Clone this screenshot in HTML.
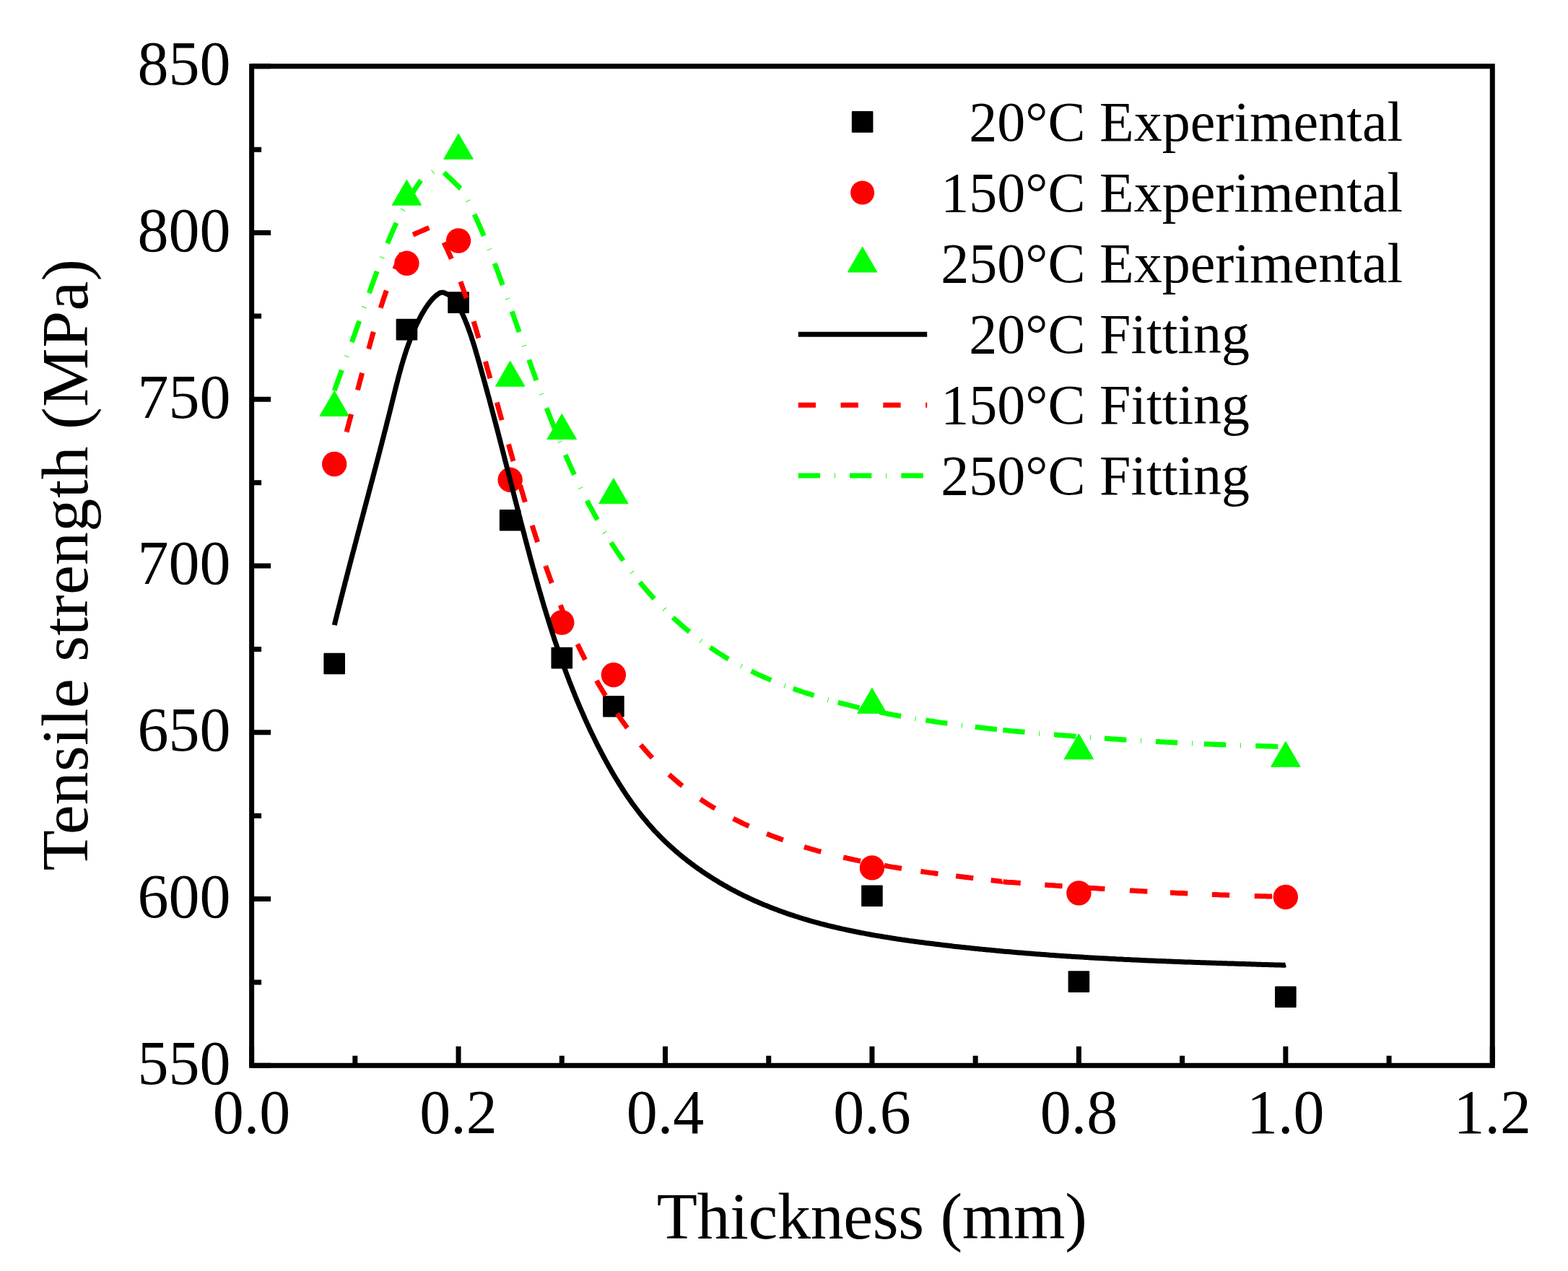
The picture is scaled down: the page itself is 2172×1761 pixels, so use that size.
<!DOCTYPE html>
<html><head><meta charset="utf-8"><title>Tensile strength vs Thickness</title>
<style>
html,body{margin:0;padding:0;background:#fff;overflow:hidden;}
svg{display:block;}
text{font-family:"Liberation Serif","Times New Roman",serif;fill:#000;}
.tl{font-size:86px;}
.ti{font-size:92px;}
.lg{font-size:78px;}
</style></head>
<body>
<svg width="2172" height="1761" viewBox="0 0 2172 1761">
<rect width="2172" height="1761" fill="#fff"/>
<rect x="348.6" y="91.8" width="1718.70" height="1384.50" fill="none" stroke="#000" stroke-width="7" stroke-linejoin="miter"/>
<path d="M348.60 91.80H375.10M348.60 322.55H375.10M348.60 553.30H375.10M348.60 784.05H375.10M348.60 1014.80H375.10M348.60 1245.55H375.10M348.60 1476.30H375.10M348.60 207.18H362.10M348.60 437.93H362.10M348.60 668.67H362.10M348.60 899.42H362.10M348.60 1130.17H362.10M348.60 1360.92H362.10M348.60 1476.30V1449.80M635.05 1476.30V1449.80M921.50 1476.30V1449.80M1207.95 1476.30V1449.80M1494.40 1476.30V1449.80M1780.85 1476.30V1449.80M2067.30 1476.30V1449.80M491.83 1476.30V1462.80M778.28 1476.30V1462.80M1064.72 1476.30V1462.80M1351.18 1476.30V1462.80M1637.62 1476.30V1462.80M1924.08 1476.30V1462.80" stroke="#000" stroke-width="7" fill="none"/>
<text x="319.5" y="117.2" class="tl" text-anchor="end">850</text>
<text x="319.5" y="347.9" class="tl" text-anchor="end">800</text>
<text x="319.5" y="578.7" class="tl" text-anchor="end">750</text>
<text x="319.5" y="809.4" class="tl" text-anchor="end">700</text>
<text x="319.5" y="1040.2" class="tl" text-anchor="end">650</text>
<text x="319.5" y="1271.0" class="tl" text-anchor="end">600</text>
<text x="319.5" y="1501.7" class="tl" text-anchor="end">550</text>
<text x="348.60" y="1569.6" class="tl" text-anchor="middle">0.0</text>
<text x="635.05" y="1569.6" class="tl" text-anchor="middle">0.2</text>
<text x="921.50" y="1569.6" class="tl" text-anchor="middle">0.4</text>
<text x="1207.95" y="1569.6" class="tl" text-anchor="middle">0.6</text>
<text x="1494.40" y="1569.6" class="tl" text-anchor="middle">0.8</text>
<text x="1780.85" y="1569.6" class="tl" text-anchor="middle">1.0</text>
<text x="2067.30" y="1569.6" class="tl" text-anchor="middle">1.2</text>
<text x="909.7" y="1715.9" class="ti" textLength="596.2" lengthAdjust="spacing">Thickness (mm)</text>
<text transform="translate(120.9 1206.4) rotate(-90)" x="0" y="0" class="ti" textLength="847.6" lengthAdjust="spacing">Tensile strength (MPa)</text>
<rect x="448.38" y="904.70" width="29.6" height="29.6" rx="1" fill="#000"/>
<rect x="548.64" y="441.80" width="29.6" height="29.6" rx="1" fill="#000"/>
<rect x="620.25" y="404.30" width="29.6" height="29.6" rx="1" fill="#000"/>
<rect x="691.86" y="706.00" width="29.6" height="29.6" rx="1" fill="#000"/>
<rect x="763.48" y="896.80" width="29.6" height="29.6" rx="1" fill="#000"/>
<rect x="835.09" y="964.00" width="29.6" height="29.6" rx="1" fill="#000"/>
<rect x="1193.15" y="1226.50" width="29.6" height="29.6" rx="1" fill="#000"/>
<rect x="1479.60" y="1345.30" width="29.6" height="29.6" rx="1" fill="#000"/>
<rect x="1766.05" y="1366.40" width="29.6" height="29.6" rx="1" fill="#000"/>
<circle cx="463.18" cy="643.00" r="17.2" fill="#f00"/>
<circle cx="563.44" cy="364.80" r="17.2" fill="#f00"/>
<circle cx="635.05" cy="333.50" r="17.2" fill="#f00"/>
<circle cx="706.66" cy="664.80" r="17.2" fill="#f00"/>
<circle cx="778.28" cy="862.50" r="17.2" fill="#f00"/>
<circle cx="849.89" cy="935.10" r="17.2" fill="#f00"/>
<circle cx="1207.95" cy="1202.40" r="17.2" fill="#f00"/>
<circle cx="1494.40" cy="1237.40" r="17.2" fill="#f00"/>
<circle cx="1780.85" cy="1242.90" r="17.2" fill="#f00"/>
<path d="M463.18 541.50L483.48 576.50L442.88 576.50Z" fill="#0f0" stroke="#0f0" stroke-width="1" stroke-linejoin="round"/>
<path d="M563.44 249.20L583.74 284.20L543.14 284.20Z" fill="#0f0" stroke="#0f0" stroke-width="1" stroke-linejoin="round"/>
<path d="M635.05 185.30L655.35 220.30L614.75 220.30Z" fill="#0f0" stroke="#0f0" stroke-width="1" stroke-linejoin="round"/>
<path d="M706.66 500.20L726.96 535.20L686.36 535.20Z" fill="#0f0" stroke="#0f0" stroke-width="1" stroke-linejoin="round"/>
<path d="M778.28 573.50L798.58 608.50L757.98 608.50Z" fill="#0f0" stroke="#0f0" stroke-width="1" stroke-linejoin="round"/>
<path d="M849.89 662.70L870.19 697.70L829.59 697.70Z" fill="#0f0" stroke="#0f0" stroke-width="1" stroke-linejoin="round"/>
<path d="M1207.95 953.30L1228.25 988.30L1187.65 988.30Z" fill="#0f0" stroke="#0f0" stroke-width="1" stroke-linejoin="round"/>
<path d="M1494.40 1016.80L1514.70 1051.80L1474.10 1051.80Z" fill="#0f0" stroke="#0f0" stroke-width="1" stroke-linejoin="round"/>
<path d="M1780.85 1027.30L1801.15 1062.30L1760.55 1062.30Z" fill="#0f0" stroke="#0f0" stroke-width="1" stroke-linejoin="round"/>
<path d="M463.4 866.1 L463.8 863.7 L464.4 861.3 L465.0 858.8 L465.6 856.4 L466.2 854.0 L466.8 851.5 L467.4 849.1 L468.0 846.7 L468.7 844.3 L469.3 841.8 L469.9 839.4 L470.5 837.0 L471.1 834.6 L471.7 832.1 L472.3 829.7 L472.9 827.3 L473.6 824.9 L474.2 822.4 L474.8 820.0 L475.4 817.6 L476.0 815.2 L476.7 812.7 L477.3 810.3 L477.9 807.9 L478.5 805.5 L479.2 803.1 L479.8 800.6 L480.4 798.2 L481.1 795.8 L481.7 793.4 L482.3 790.9 L482.9 788.5 L483.6 786.1 L484.2 783.7 L484.8 781.3 L485.5 778.8 L486.1 776.4 L486.7 774.0 L487.4 771.6 L488.0 769.2 L488.6 766.7 L489.3 764.3 L489.9 761.9 L490.6 759.5 L491.2 757.1 L491.8 754.6 L492.5 752.2 L493.1 749.8 L493.7 747.4 L494.4 745.0 L495.0 742.5 L495.7 740.1 L496.3 737.7 L496.9 735.3 L497.6 732.9 L498.2 730.4 L498.9 728.0 L499.5 725.6 L500.1 723.2 L500.8 720.8 L501.4 718.4 L502.1 715.9 L502.7 713.5 L503.4 711.1 L504.0 708.7 L504.6 706.3 L505.3 703.8 L505.9 701.4 L506.6 699.0 L507.2 696.6 L507.8 694.2 L508.5 691.8 L509.1 689.3 L509.8 686.9 L510.4 684.5 L511.0 682.1 L511.7 679.7 L512.3 677.2 L513.0 674.8 L513.6 672.4 L514.2 670.0 L514.9 667.6 L515.5 665.1 L516.2 662.7 L516.8 660.3 L517.4 657.9 L518.1 655.5 L518.7 653.0 L519.3 650.6 L520.0 648.2 L520.6 645.8 L521.2 643.4 L521.9 640.9 L522.5 638.5 L523.1 636.1 L523.8 633.7 L524.4 631.3 L525.0 628.8 L525.7 626.4 L526.3 624.0 L526.9 621.6 L527.5 619.1 L528.2 616.7 L528.8 614.3 L529.4 611.9 L530.0 609.5 L530.7 607.0 L531.3 604.6 L531.9 602.2 L532.5 599.8 L533.1 597.3 L533.8 594.9 L534.4 592.5 L535.0 590.1 L535.6 587.6 L536.2 585.2 L536.8 582.8 L537.4 580.4 L538.1 577.9 L538.7 575.5 L539.3 573.1 L539.9 570.7 L540.5 568.2 L541.1 565.8 L541.7 563.4 L542.3 560.9 L542.9 558.5 L543.5 556.1 L544.1 553.7 L544.7 551.2 L545.3 548.8 L545.9 546.4 L546.5 543.9 L547.1 541.5 L547.7 539.1 L548.3 536.7 L548.9 534.2 L549.5 531.8 L550.2 529.4 L550.8 527.0 L551.4 524.5 L552.0 522.1 L552.7 519.7 L553.3 517.3 L554.0 514.9 L554.7 512.4 L555.3 510.0 L556.0 507.6 L556.7 505.2 L557.4 502.8 L558.1 500.4 L558.8 498.0 L559.6 495.6 L560.3 493.2 L561.1 490.9 L561.8 488.5 L562.6 486.1 L563.4 483.7 L564.2 481.4 L565.1 479.0 L565.9 476.7 L566.8 474.3 L567.7 472.0 L568.5 469.6 L569.5 467.3 L570.4 465.0 L571.3 462.7 L572.3 460.3 L573.3 458.0 L574.3 455.8 L575.3 453.5 L576.3 451.2 L577.4 448.9 L578.5 446.7 L579.6 444.4 L580.7 442.2 L581.9 440.0 L583.0 437.8 L584.2 435.6 L585.5 433.4 L586.8 431.2 L588.1 429.1 L589.4 427.0 L590.8 424.9 L592.2 422.9 L593.7 420.8 L595.2 418.9 L596.8 416.9 L598.4 415.0 L600.1 413.2 L601.9 411.4 L603.8 409.8 L605.7 408.2 L607.8 406.8 L609.9 405.5 L612.1 405.3 L614.4 405.3 L616.7 406.2 L619.0 407.2 L621.2 408.5 L623.2 409.9 L625.2 411.5 L627.0 413.2 L628.7 415.1 L630.3 417.0 L631.8 419.0 L633.2 421.1 L634.5 423.2 L635.8 425.3 L637.0 427.5 L638.1 429.8 L639.2 432.0 L640.2 434.3 L641.3 436.6 L642.3 438.8 L643.3 441.1 L644.3 443.4 L645.2 445.8 L646.2 448.1 L647.1 450.4 L648.0 452.8 L648.8 455.1 L649.7 457.4 L650.5 459.8 L651.4 462.2 L652.2 464.5 L653.0 466.9 L653.7 469.3 L654.5 471.7 L655.3 474.0 L656.0 476.4 L656.8 478.8 L657.5 481.2 L658.2 483.6 L658.9 486.0 L659.6 488.4 L660.3 490.8 L661.0 493.2 L661.7 495.6 L662.4 498.0 L663.1 500.4 L663.8 502.8 L664.5 505.2 L665.1 507.7 L665.8 510.1 L666.5 512.5 L667.2 514.9 L667.8 517.3 L668.5 519.7 L669.2 522.1 L669.9 524.5 L670.5 526.9 L671.2 529.3 L671.9 531.8 L672.5 534.2 L673.2 536.6 L673.8 539.0 L674.5 541.4 L675.1 543.8 L675.8 546.2 L676.5 548.7 L677.1 551.1 L677.8 553.5 L678.4 555.9 L679.0 558.3 L679.7 560.7 L680.3 563.2 L681.0 565.6 L681.6 568.0 L682.3 570.4 L682.9 572.8 L683.5 575.3 L684.2 577.7 L684.8 580.1 L685.4 582.5 L686.1 584.9 L686.7 587.4 L687.3 589.8 L688.0 592.2 L688.6 594.6 L689.2 597.0 L689.9 599.5 L690.5 601.9 L691.1 604.3 L691.7 606.7 L692.4 609.1 L693.0 611.6 L693.6 614.0 L694.2 616.4 L694.9 618.8 L695.5 621.3 L696.1 623.7 L696.7 626.1 L697.4 628.5 L698.0 631.0 L698.6 633.4 L699.2 635.8 L699.8 638.2 L700.5 640.7 L701.1 643.1 L701.7 645.5 L702.3 647.9 L702.9 650.3 L703.6 652.8 L704.2 655.2 L704.8 657.6 L705.4 660.0 L706.0 662.5 L706.6 664.9 L707.3 667.3 L707.9 669.7 L708.5 672.2 L709.1 674.6 L709.7 677.0 L710.4 679.4 L711.0 681.9 L711.6 684.3 L712.2 686.7 L712.8 689.1 L713.4 691.6 L714.1 694.0 L714.7 696.4 L715.3 698.8 L715.9 701.3 L716.6 703.7 L717.2 706.1 L717.8 708.5 L718.4 711.0 L719.0 713.4 L719.7 715.8 L720.3 718.2 L720.9 720.6 L721.5 723.1 L722.2 725.5 L722.8 727.9 L723.4 730.3 L724.1 732.8 L724.7 735.2 L725.3 737.6 L726.0 740.0 L726.6 742.4 L727.2 744.9 L727.9 747.3 L728.5 749.7 L729.1 752.1 L729.8 754.5 L730.4 756.9 L731.1 759.4 L731.7 761.8 L732.4 764.2 L733.0 766.6 L733.6 769.0 L734.3 771.5 L734.9 773.9 L735.6 776.3 L736.3 778.7 L736.9 781.1 L737.6 783.5 L738.2 785.9 L738.9 788.4 L739.6 790.8 L740.2 793.2 L740.9 795.6 L741.6 798.0 L742.2 800.4 L742.9 802.8 L743.6 805.2 L744.3 807.6 L744.9 810.0 L745.6 812.4 L746.3 814.9 L747.0 817.3 L747.7 819.7 L748.4 822.1 L749.1 824.5 L749.8 826.9 L750.5 829.3 L751.2 831.7 L751.9 834.1 L752.6 836.5 L753.3 838.9 L754.0 841.3 L754.8 843.7 L755.5 846.1 L756.2 848.5 L756.9 850.8 L757.7 853.2 L758.4 855.6 L759.2 858.0 L759.9 860.4 L760.6 862.8 L761.4 865.2 L762.1 867.6 L762.9 870.0 L763.7 872.3 L764.4 874.7 L765.2 877.1 L766.0 879.5 L766.8 881.9 L767.5 884.2 L768.3 886.6 L769.1 889.0 L769.9 891.4 L770.7 893.7 L771.5 896.1 L772.3 898.5 L773.1 900.8 L773.9 903.2 L774.7 905.6 L775.6 907.9 L776.4 910.3 L777.2 912.7 L778.1 915.0 L778.9 917.4 L779.7 919.7 L780.6 922.1 L781.4 924.4 L782.3 926.8 L783.2 929.1 L784.0 931.5 L784.9 933.8 L785.8 936.2 L786.7 938.5 L787.6 940.8 L788.4 943.2 L789.3 945.5 L790.3 947.8 L791.2 950.2 L792.1 952.5 L793.0 954.8 L793.9 957.2 L794.9 959.5 L795.8 961.8 L796.7 964.1 L797.7 966.4 L798.6 968.7 L799.6 971.1 L800.6 973.4 L801.5 975.7 L802.5 978.0 L803.5 980.3 L804.5 982.6 L805.5 984.9 L806.5 987.2 L807.5 989.5 L808.5 991.7 L809.5 994.0 L810.5 996.3 L811.5 998.6 L812.6 1000.9 L813.6 1003.2 L814.7 1005.4 L815.7 1007.7 L816.8 1010.0 L817.8 1012.2 L818.9 1014.5 L820.0 1016.7 L821.1 1019.0 L822.2 1021.2 L823.3 1023.5 L824.4 1025.7 L825.5 1028.0 L826.6 1030.2 L827.7 1032.5 L828.9 1034.7 L830.0 1036.9 L831.2 1039.1 L832.3 1041.4 L833.5 1043.6 L834.6 1045.8 L835.8 1048.0 L837.0 1050.2 L838.2 1052.4 L839.4 1054.6 L840.6 1056.8 L841.8 1059.0 L843.0 1061.2 L844.2 1063.3 L845.5 1065.5 L846.7 1067.7 L848.0 1069.9 L849.2 1072.0 L850.5 1074.2 L851.8 1076.3 L853.1 1078.5 L854.4 1080.6 L855.7 1082.7 L857.0 1084.9 L858.3 1087.0 L859.7 1089.1 L861.0 1091.2 L862.4 1093.3 L863.7 1095.4 L865.1 1097.5 L866.5 1099.6 L867.9 1101.7 L869.3 1103.7 L870.7 1105.8 L872.1 1107.8 L873.6 1109.9 L875.0 1111.9 L876.5 1114.0 L878.0 1116.0 L879.5 1118.0 L881.0 1120.0 L882.5 1122.0 L884.0 1124.0 L885.5 1126.0 L887.1 1127.9 L888.6 1129.9 L890.2 1131.8 L891.8 1133.8 L893.4 1135.7 L895.0 1137.6 L896.6 1139.5 L898.2 1141.4 L899.8 1143.3 L901.5 1145.2 L903.2 1147.1 L904.8 1148.9 L906.5 1150.8 L908.2 1152.6 L910.0 1154.4 L911.7 1156.2 L913.4 1158.0 L915.2 1159.8 L917.0 1161.6 L918.7 1163.3 L920.5 1165.1 L922.3 1166.8 L924.2 1168.5 L926.0 1170.2 L927.8 1171.9 L929.7 1173.6 L931.5 1175.3 L933.4 1176.9 L935.3 1178.6 L937.2 1180.2 L939.1 1181.8 L941.0 1183.5 L942.9 1185.1 L944.9 1186.6 L946.8 1188.2 L948.8 1189.8 L950.7 1191.3 L952.7 1192.9 L954.7 1194.4 L956.7 1195.9 L958.7 1197.4 L960.7 1198.9 L962.7 1200.4 L964.7 1201.8 L966.8 1203.3 L968.8 1204.7 L970.9 1206.2 L972.9 1207.6 L975.0 1209.0 L977.1 1210.4 L979.2 1211.8 L981.3 1213.1 L983.4 1214.5 L985.5 1215.8 L987.6 1217.2 L989.7 1218.5 L991.8 1219.8 L994.0 1221.1 L996.1 1222.4 L998.3 1223.7 L1000.4 1224.9 L1002.6 1226.2 L1004.8 1227.4 L1007.0 1228.6 L1009.1 1229.9 L1011.3 1231.1 L1013.5 1232.3 L1015.7 1233.4 L1018.0 1234.6 L1020.2 1235.8 L1022.4 1236.9 L1024.6 1238.1 L1026.9 1239.2 L1029.1 1240.3 L1031.3 1241.4 L1033.6 1242.5 L1035.9 1243.5 L1038.1 1244.6 L1040.4 1245.7 L1042.7 1246.7 L1044.9 1247.7 L1047.2 1248.8 L1049.5 1249.8 L1051.8 1250.8 L1054.1 1251.8 L1056.4 1252.7 L1058.7 1253.7 L1061.0 1254.6 L1063.4 1255.6 L1065.7 1256.5 L1068.0 1257.4 L1070.3 1258.3 L1072.7 1259.2 L1075.0 1260.1 L1077.4 1261.0 L1079.7 1261.9 L1082.1 1262.7 L1084.4 1263.6 L1086.8 1264.4 L1089.1 1265.2 L1091.5 1266.1 L1093.9 1266.9 L1096.2 1267.7 L1098.6 1268.4 L1101.0 1269.2 L1103.4 1270.0 L1105.8 1270.7 L1108.1 1271.5 L1110.5 1272.2 L1112.9 1273.0 L1115.3 1273.7 L1117.7 1274.4 L1120.1 1275.1 L1122.5 1275.8 L1124.9 1276.5 L1127.3 1277.2 L1129.8 1277.8 L1132.2 1278.5 L1134.6 1279.1 L1137.0 1279.8 L1139.4 1280.4 L1141.8 1281.0 L1144.3 1281.6 L1146.7 1282.3 L1149.1 1282.9 L1151.6 1283.5 L1154.0 1284.0 L1156.4 1284.6 L1158.9 1285.2 L1161.3 1285.8 L1163.7 1286.3 L1166.2 1286.9 L1168.6 1287.4 L1171.1 1287.9 L1173.5 1288.5 L1176.0 1289.0 L1178.4 1289.5 L1180.9 1290.0 L1183.3 1290.5 L1185.8 1291.0 L1188.2 1291.5 L1190.7 1292.0 L1193.1 1292.5 L1195.6 1292.9 L1198.0 1293.4 L1200.5 1293.9 L1203.0 1294.3 L1205.4 1294.8 L1207.9 1295.2 L1210.3 1295.6 L1212.8 1296.1 L1215.3 1296.5 L1217.7 1296.9 L1220.2 1297.3 L1222.7 1297.7 L1225.1 1298.1 L1227.6 1298.5 L1230.1 1298.9 L1232.6 1299.3 L1235.0 1299.7 L1237.5 1300.1 L1240.0 1300.5 L1242.4 1300.9 L1244.9 1301.2 L1247.4 1301.6 L1249.9 1302.0 L1252.3 1302.3 L1254.8 1302.7 L1257.3 1303.0 L1259.8 1303.4 L1262.3 1303.7 L1264.7 1304.1 L1267.2 1304.4 L1269.7 1304.7 L1272.2 1305.1 L1274.7 1305.4 L1277.1 1305.7 L1279.6 1306.0 L1282.1 1306.4 L1284.6 1306.7 L1287.1 1307.0 L1289.5 1307.3 L1292.0 1307.6 L1294.5 1307.9 L1297.0 1308.2 L1299.5 1308.5 L1302.0 1308.8 L1304.4 1309.1 L1306.9 1309.4 L1309.4 1309.7 L1311.9 1310.0 L1314.4 1310.3 L1316.9 1310.6 L1319.4 1310.9 L1321.8 1311.2 L1324.3 1311.4 L1326.8 1311.7 L1329.3 1312.0 L1331.8 1312.3 L1334.3 1312.5 L1336.8 1312.8 L1339.2 1313.1 L1341.7 1313.3 L1344.2 1313.6 L1346.7 1313.9 L1349.2 1314.1 L1351.7 1314.4 L1354.2 1314.6 L1356.7 1314.9 L1359.2 1315.1 L1361.6 1315.4 L1364.1 1315.6 L1366.6 1315.9 L1369.1 1316.1 L1371.6 1316.3 L1374.1 1316.6 L1376.6 1316.8 L1379.1 1317.1 L1381.6 1317.3 L1384.1 1317.5 L1386.6 1317.7 L1389.0 1318.0 L1391.5 1318.2 L1394.0 1318.4 L1396.5 1318.6 L1399.0 1318.8 L1401.5 1319.1 L1404.0 1319.3 L1406.5 1319.5 L1409.0 1319.7 L1411.5 1319.9 L1414.0 1320.1 L1416.5 1320.3 L1419.0 1320.5 L1421.5 1320.7 L1424.0 1320.9 L1426.4 1321.1 L1428.9 1321.3 L1431.4 1321.5 L1433.9 1321.7 L1436.4 1321.9 L1438.9 1322.1 L1441.4 1322.3 L1443.9 1322.5 L1446.4 1322.6 L1448.9 1322.8 L1451.4 1323.0 L1453.9 1323.2 L1456.4 1323.4 L1458.9 1323.5 L1461.4 1323.7 L1463.9 1323.9 L1466.4 1324.1 L1468.9 1324.2 L1471.4 1324.4 L1473.9 1324.6 L1476.4 1324.7 L1478.9 1324.9 L1481.3 1325.0 L1483.8 1325.2 L1486.3 1325.4 L1488.8 1325.5 L1491.3 1325.7 L1493.8 1325.8 L1496.3 1326.0 L1498.8 1326.1 L1501.3 1326.3 L1503.8 1326.4 L1506.3 1326.6 L1508.8 1326.7 L1511.3 1326.9 L1513.8 1327.0 L1516.3 1327.2 L1518.8 1327.3 L1521.3 1327.4 L1523.8 1327.6 L1526.3 1327.7 L1528.8 1327.8 L1531.3 1328.0 L1533.8 1328.1 L1536.3 1328.2 L1538.8 1328.4 L1541.3 1328.5 L1543.8 1328.6 L1546.3 1328.8 L1548.8 1328.9 L1551.3 1329.0 L1553.8 1329.1 L1556.3 1329.3 L1558.8 1329.4 L1561.3 1329.5 L1563.8 1329.6 L1566.3 1329.7 L1568.8 1329.9 L1571.3 1330.0 L1573.8 1330.1 L1576.3 1330.2 L1578.8 1330.3 L1581.3 1330.4 L1583.8 1330.5 L1586.3 1330.7 L1588.8 1330.8 L1591.3 1330.9 L1593.8 1331.0 L1596.3 1331.1 L1598.8 1331.2 L1601.3 1331.3 L1603.8 1331.4 L1606.3 1331.5 L1608.8 1331.6 L1611.3 1331.7 L1613.8 1331.8 L1616.3 1331.9 L1618.8 1332.0 L1621.3 1332.1 L1623.8 1332.2 L1626.3 1332.3 L1628.8 1332.4 L1631.3 1332.5 L1633.8 1332.6 L1636.3 1332.7 L1638.8 1332.8 L1641.3 1332.9 L1643.8 1333.0 L1646.3 1333.0 L1648.8 1333.1 L1651.3 1333.2 L1653.8 1333.3 L1656.3 1333.4 L1658.8 1333.5 L1661.3 1333.6 L1663.8 1333.7 L1666.3 1333.8 L1668.8 1333.8 L1671.3 1333.9 L1673.8 1334.0 L1676.3 1334.1 L1678.8 1334.2 L1681.3 1334.3 L1683.8 1334.3 L1686.3 1334.4 L1688.8 1334.5 L1691.3 1334.6 L1693.8 1334.7 L1696.3 1334.8 L1698.8 1334.8 L1701.3 1334.9 L1703.8 1335.0 L1706.3 1335.1 L1708.8 1335.1 L1711.3 1335.2 L1713.8 1335.3 L1716.3 1335.4 L1718.8 1335.5 L1721.3 1335.5 L1723.8 1335.6 L1726.3 1335.7 L1728.8 1335.8 L1731.3 1335.8 L1733.8 1335.9 L1736.3 1336.0 L1738.8 1336.1 L1741.3 1336.2 L1743.8 1336.2 L1746.3 1336.3 L1748.8 1336.4 L1751.3 1336.5 L1753.8 1336.5 L1756.3 1336.6 L1758.8 1336.7 L1761.3 1336.8 L1763.8 1336.8 L1766.3 1336.9 L1768.8 1337.0 L1771.3 1337.1 L1773.8 1337.1 L1776.3 1337.2 L1778.8 1337.3 L1781.0 1336.7" fill="none" stroke="#000" stroke-width="7" stroke-linejoin="round"/>
<g fill="none" stroke="#f00" stroke-width="7" stroke-dasharray="24.3 34.5" stroke-linejoin="round"><path d="M463.2 657.0 L463.9 655.2"/><path d="M463.9 655.2 L464.8 652.3 L465.6 649.4 L466.5 646.5 L467.3 643.7 L468.1 640.8 L469.0 637.9 L469.8 635.0 L470.6 632.1 L471.5 629.2 L472.3 626.3 L473.1 623.4 L473.9 620.6 L474.7 617.7 L475.5 614.8 L476.3 611.9 L477.1 609.0 L477.9 606.1 L478.7 603.2 L479.5 600.3 L480.3 597.4"/><path d="M480.3 597.4 L481.1 594.5 L481.9 591.6 L482.7 588.7 L483.4 585.8 L484.2 582.9 L485.0 580.0 L485.8 577.1 L486.5 574.2 L487.3 571.3 L488.1 568.3 L488.8 565.4 L489.6 562.5 L490.4 559.6 L491.1 556.7 L491.9 553.8 L492.7 550.9 L493.4 548.0 L494.2 545.1 L495.0 542.2 L495.5 540.3"/><path d="M495.5 540.3 L496.2 537.4 L497.0 534.5 L497.8 531.5 L498.5 528.6 L499.3 525.7 L500.1 522.8 L500.8 519.9 L501.6 517.0 L502.4 514.1 L503.2 511.2 L503.9 508.3 L504.7 505.4 L505.5 502.5 L506.3 499.6 L507.1 496.7 L507.8 493.8 L508.6 490.9 L509.4 488.0 L510.2 485.1 L510.8 483.2"/><path d="M510.8 483.2 L511.6 480.3 L512.4 477.4 L513.2 474.5 L514.0 471.6 L514.8 468.7 L515.6 465.8 L516.4 462.9 L517.3 460.0 L518.1 457.1 L518.9 454.3 L519.8 451.4 L520.6 448.5 L521.5 445.6 L522.3 442.7 L523.2 439.9 L524.0 437.0 L524.9 434.1 L525.8 431.2 L526.7 428.4 L527.6 425.5"/><path d="M527.6 425.5 L528.5 422.6 L529.5 419.8 L530.4 416.9 L531.3 414.1 L532.3 411.2 L533.3 408.4 L534.2 405.5 L535.2 402.7 L536.3 399.9 L537.3 397.1 L538.3 394.2 L539.4 391.4 L540.4 388.6 L541.5 385.8 L542.6 383.0 L543.7 380.2 L544.9 377.4 L546.0 374.7 L546.8 372.8"/><path d="M546.8 372.8 L548.0 370.0 L549.2 367.3 L550.4 364.5 L551.6 361.8 L552.9 359.1 L554.1 356.4 L555.4 353.6 L556.7 350.9 L558.1 348.2 L559.4 345.6 L560.8 342.9 L562.2 340.2 L563.6 337.6 L565.1 335.0 L566.6 332.3 L568.0 329.7 L569.6 327.1 L571.2 324.8 L572.1 325.2"/><path d="M572.1 325.2 L574.9 324.0 L577.6 322.8 L580.4 321.6 L583.1 320.4 L585.9 319.2 L588.6 318.0 L591.4 316.8 L594.1 315.6 L596.9 314.4 L599.7 313.2 L602.2 313.0 L603.7 315.6 L605.2 318.2 L606.7 320.8 L608.2 323.4 L609.6 326.1 L611.0 328.7 L612.4 331.4 L613.8 334.1 L615.1 336.7"/><path d="M615.1 336.7 L616.5 339.4 L617.8 342.1 L619.1 344.8 L620.4 347.5 L621.6 350.3 L622.9 353.0 L624.1 355.8 L625.3 358.5 L626.5 361.3 L627.7 364.0 L628.8 366.8 L630.0 369.6 L631.1 372.3 L632.2 375.1 L633.3 377.9 L634.4 380.7 L635.4 383.5 L636.5 386.3 L637.6 389.2 L637.9 390.1"/><path d="M637.9 390.1 L638.9 392.9 L639.9 395.7 L640.9 398.6 L641.9 401.4 L642.9 404.2 L643.9 407.1 L644.9 409.9 L645.8 412.8 L646.8 415.6 L647.7 418.5 L648.6 421.3 L649.5 424.2 L650.5 427.0 L651.4 429.9 L652.3 432.8 L653.2 435.6 L654.0 438.5 L654.9 441.4 L655.8 444.2 L656.1 445.2"/><path d="M656.1 445.2 L657.0 448.1 L657.8 451.0 L658.7 453.8 L659.5 456.7 L660.4 459.6 L661.2 462.5 L662.1 465.3 L662.9 468.2 L663.8 471.1 L664.6 474.0 L665.4 476.9 L666.3 479.8 L667.1 482.6 L667.9 485.5 L668.8 488.4 L669.6 491.3 L670.4 494.2 L671.3 497.1 L672.1 500.0 L672.4 500.9"/><path d="M672.4 500.9 L673.2 503.8 L674.0 506.7 L674.8 509.6 L675.6 512.5 L676.5 515.4 L677.3 518.2 L678.1 521.1 L678.9 524.0 L679.7 526.9 L680.5 529.8 L681.3 532.7 L682.2 535.6 L683.0 538.5 L683.8 541.4 L684.6 544.3 L685.4 547.1 L686.2 550.0 L687.0 552.9 L687.8 555.8 L688.6 558.7"/><path d="M688.6 558.7 L689.4 561.6 L690.2 564.5 L691.0 567.4 L691.8 570.3 L692.6 573.2 L693.4 576.1 L694.2 579.0 L695.1 581.9 L695.9 584.7 L696.7 587.6 L697.5 590.5 L698.3 593.4 L699.1 596.3 L699.9 599.2 L700.7 602.1 L701.5 605.0 L702.3 607.9 L703.1 610.8 L703.9 613.7 L704.5 615.6"/><path d="M704.5 615.6 L705.3 618.5 L706.1 621.4 L706.9 624.3 L707.7 627.2 L708.5 630.0 L709.3 632.9 L710.1 635.8 L710.9 638.7 L711.8 641.6 L712.6 644.5 L713.4 647.4 L714.2 650.3 L715.0 653.2 L715.9 656.0 L716.7 658.9 L717.5 661.8 L718.3 664.7 L719.2 667.6 L720.0 670.5 L720.6 672.4"/><path d="M720.6 672.4 L721.4 675.3 L722.2 678.2 L723.1 681.0 L723.9 683.9 L724.8 686.8 L725.6 689.7 L726.5 692.6 L727.3 695.4 L728.2 698.3 L729.0 701.2 L729.9 704.1 L730.8 706.9 L731.6 709.8 L732.5 712.7 L733.4 715.6 L734.3 718.4 L735.1 721.3 L736.0 724.2 L736.9 727.0 L737.2 728.0"/><path d="M737.2 728.0 L738.1 730.9 L739.0 733.7 L739.9 736.6 L740.8 739.4 L741.7 742.3 L742.7 745.2 L743.6 748.0 L744.5 750.9 L745.5 753.7 L746.4 756.6 L747.3 759.4 L748.3 762.3 L749.2 765.1 L750.2 768.0 L751.2 770.8 L752.1 773.6 L753.1 776.5 L754.1 779.3 L755.1 782.2 L756.1 785.0"/><path d="M756.1 785.0 L757.1 787.8 L758.1 790.7 L759.1 793.5 L760.1 796.3 L761.1 799.1 L762.1 801.9 L763.2 804.8 L764.2 807.6 L765.3 810.4 L766.3 813.2 L767.4 816.0 L768.5 818.8 L769.5 821.6 L770.6 824.4 L771.7 827.2 L772.8 830.0 L773.9 832.8 L775.0 835.6 L776.2 838.4"/><path d="M776.2 838.4 L777.3 841.1 L778.4 843.9 L779.6 846.7 L780.7 849.5 L781.9 852.2 L783.1 855.0 L784.2 857.8 L785.4 860.5 L786.6 863.3 L787.8 866.0 L789.0 868.8 L790.3 871.5 L791.5 874.3 L792.7 877.0 L794.0 879.7 L795.2 882.4 L796.5 885.2 L797.8 887.9 L799.1 890.6 L799.9 892.4"/><path d="M799.9 892.4 L801.2 895.1 L802.5 897.8 L803.8 900.5 L805.2 903.2 L806.5 905.9 L807.9 908.6 L809.2 911.3 L810.6 913.9 L812.0 916.6 L813.4 919.3 L814.7 921.9 L816.2 924.6 L817.6 927.2 L819.0 929.8 L820.4 932.5 L821.9 935.1 L823.4 937.7 L824.8 940.3 L826.3 943.0"/><path d="M826.3 943.0 L827.8 945.6 L829.3 948.2 L830.8 950.8 L832.3 953.3 L833.9 955.9 L835.4 958.5 L837.0 961.1 L838.6 963.6 L840.1 966.2 L841.7 968.7 L843.3 971.3 L845.0 973.8 L846.6 976.3 L848.2 978.8 L849.9 981.3 L851.5 983.8 L853.2 986.3 L854.9 988.8"/><path d="M854.9 988.8 L856.6 991.3 L858.3 993.7 L860.0 996.2 L861.8 998.7 L863.5 1001.1 L865.3 1003.5 L867.0 1005.9 L868.8 1008.4 L870.6 1010.8 L872.5 1013.1 L874.3 1015.5 L876.1 1017.9 L878.0 1020.3 L879.8 1022.6 L881.7 1024.9 L883.6 1027.3 L885.5 1029.6 L887.5 1031.9"/><path d="M887.5 1031.9 L889.4 1034.2 L891.4 1036.5 L893.3 1038.7 L895.3 1041.0 L897.3 1043.2 L899.3 1045.5 L901.3 1047.7 L903.4 1049.9 L905.4 1052.1 L907.5 1054.2 L909.6 1056.4 L911.7 1058.5 L913.8 1060.7 L915.9 1062.8 L918.1 1064.9 L920.2 1067.0 L922.4 1069.0 L924.6 1071.1 L926.8 1073.1"/><path d="M926.8 1073.1 L929.0 1075.1 L931.3 1077.1 L933.5 1079.1 L935.8 1081.1 L938.1 1083.0 L940.4 1085.0 L942.7 1086.9 L945.0 1088.8 L947.4 1090.6 L949.8 1092.5 L952.1 1094.3 L954.5 1096.1 L956.9 1097.9 L959.4 1099.7 L961.8 1101.4 L964.2 1103.2 L966.7 1104.9 L969.2 1106.6 L970.0 1107.2"/><path d="M970.0 1107.2 L972.5 1108.8 L975.0 1110.5 L977.5 1112.1 L980.0 1113.8 L982.6 1115.4 L985.1 1116.9 L987.7 1118.5 L990.3 1120.1 L992.8 1121.6 L995.4 1123.1 L998.0 1124.6 L1000.7 1126.1 L1003.3 1127.5 L1005.9 1129.0 L1008.6 1130.4 L1011.2 1131.8 L1013.9 1133.2 L1015.6 1134.1"/><path d="M1015.6 1134.1 L1018.3 1135.5 L1021.0 1136.8 L1023.7 1138.2 L1026.4 1139.5 L1029.1 1140.8 L1031.8 1142.1 L1034.5 1143.3 L1037.3 1144.6 L1040.0 1145.8 L1042.7 1147.1 L1045.5 1148.3 L1048.2 1149.5 L1051.0 1150.6 L1053.8 1151.8 L1056.5 1153.0 L1059.3 1154.1 L1062.1 1155.2"/><path d="M1062.1 1155.2 L1064.9 1156.3 L1067.7 1157.4 L1070.5 1158.5 L1073.3 1159.6 L1076.1 1160.6 L1078.9 1161.6 L1081.7 1162.7 L1084.6 1163.7 L1087.4 1164.7 L1090.2 1165.7 L1093.1 1166.6 L1095.9 1167.6 L1098.8 1168.6 L1101.6 1169.5 L1104.5 1170.4 L1107.3 1171.3 L1110.2 1172.2 L1113.1 1173.1 L1114.0 1173.4"/><path d="M1114.0 1173.4 L1116.9 1174.3 L1119.8 1175.1 L1122.7 1176.0 L1125.5 1176.8 L1128.4 1177.6 L1131.3 1178.5 L1134.2 1179.3 L1137.1 1180.0 L1140.0 1180.8 L1142.9 1181.6 L1145.8 1182.4 L1148.7 1183.1 L1151.6 1183.8 L1154.5 1184.6 L1157.4 1185.3 L1160.4 1186.0 L1163.3 1186.7 L1166.2 1187.4 L1168.2 1187.8"/><path d="M1168.2 1187.8 L1171.1 1188.5 L1174.0 1189.2 L1176.9 1189.8 L1179.9 1190.5 L1182.8 1191.1 L1185.7 1191.7 L1188.7 1192.4 L1191.6 1193.0 L1194.6 1193.6 L1197.5 1194.2 L1200.4 1194.7 L1203.4 1195.3 L1206.3 1195.9 L1209.3 1196.5 L1212.2 1197.0 L1215.2 1197.6 L1218.1 1198.1 L1221.1 1198.6 L1224.1 1199.2 L1225.0 1199.3"/><path d="M1225.0 1199.3 L1228.0 1199.8 L1231.0 1200.4 L1233.9 1200.9 L1236.9 1201.4 L1239.8 1201.8 L1242.8 1202.3 L1245.8 1202.8 L1248.7 1203.3 L1251.7 1203.8 L1254.7 1204.2 L1257.6 1204.7 L1260.6 1205.1 L1263.6 1205.6 L1266.5 1206.0 L1269.5 1206.4 L1272.5 1206.9 L1275.4 1207.3"/><path d="M1275.4 1207.3 L1278.4 1207.7 L1281.4 1208.1 L1284.4 1208.6 L1287.3 1209.0 L1290.3 1209.4 L1293.3 1209.8 L1296.3 1210.2 L1299.2 1210.6 L1302.2 1211.0 L1305.2 1211.3 L1308.2 1211.7 L1311.1 1212.1 L1314.1 1212.5 L1317.1 1212.9 L1320.1 1213.2 L1323.1 1213.6 L1324.1 1213.7"/><path d="M1324.1 1213.7 L1327.0 1214.1 L1330.0 1214.5 L1333.0 1214.8 L1336.0 1215.2 L1339.0 1215.6 L1341.9 1215.9 L1344.9 1216.3 L1347.9 1216.6 L1350.9 1217.0 L1353.9 1217.3 L1356.8 1217.7 L1359.8 1218.1 L1362.8 1218.4 L1365.8 1218.8 L1368.8 1219.1 L1371.7 1219.5 L1372.7 1219.6"/><path d="M1372.7 1219.6 L1375.7 1219.9 L1378.7 1220.3 L1381.7 1220.6 L1384.7 1221.0 L1387.6 1221.3 L1388.5 1220.9"/><path d="M1389.5 1221.8 L1392.5 1221.9 L1395.5 1222.2 L1398.4 1222.4 L1401.4 1222.6 L1404.4 1222.8 L1407.4 1223.1 L1410.4 1223.3 L1413.4 1223.5 L1416.4 1223.7 L1419.4 1224.0 L1422.4 1224.2 L1425.4 1224.4 L1428.4 1224.6 L1431.4 1224.8 L1434.4 1225.1 L1437.3 1225.3 L1440.3 1225.5 L1443.3 1225.7 L1446.3 1225.9 L1447.3 1226.0"/><path d="M1447.3 1226.0 L1450.3 1226.2 L1453.3 1226.4 L1456.3 1226.6 L1459.3 1226.8 L1462.3 1227.1 L1465.3 1227.3 L1468.3 1227.5 L1471.3 1227.7 L1474.3 1227.9 L1477.2 1228.1 L1480.2 1228.3 L1483.2 1228.5 L1486.2 1228.7 L1489.2 1228.9 L1492.2 1229.1 L1495.2 1229.3 L1498.2 1229.5 L1501.2 1229.7 L1504.2 1229.9 L1506.2 1230.0"/><path d="M1506.2 1230.0 L1509.2 1230.2 L1512.2 1230.4 L1515.2 1230.6 L1518.2 1230.8 L1521.2 1231.0 L1524.1 1231.2 L1527.1 1231.4 L1530.1 1231.6 L1533.1 1231.8 L1536.1 1232.0 L1539.1 1232.2 L1542.1 1232.3 L1545.1 1232.5 L1548.1 1232.7 L1551.1 1232.9 L1554.1 1233.1 L1557.1 1233.2 L1560.1 1233.4 L1563.1 1233.6 L1565.1 1233.7"/><path d="M1565.1 1233.7 L1568.1 1233.9 L1571.1 1234.1 L1574.1 1234.2 L1577.1 1234.4 L1580.1 1234.6 L1583.0 1234.7 L1586.0 1234.9 L1589.0 1235.1 L1592.0 1235.2 L1595.0 1235.4 L1598.0 1235.6 L1601.0 1235.7 L1604.0 1235.9 L1607.0 1236.0 L1610.0 1236.2 L1613.0 1236.4 L1616.0 1236.5 L1619.0 1236.7 L1621.0 1236.8"/><path d="M1621.0 1236.8 L1624.0 1236.9 L1627.0 1237.1 L1630.0 1237.2 L1633.0 1237.4 L1636.0 1237.5 L1639.0 1237.6 L1642.0 1237.8 L1645.0 1237.9 L1648.0 1238.1 L1651.0 1238.2 L1654.0 1238.3 L1657.0 1238.5 L1660.0 1238.6 L1663.0 1238.7 L1666.0 1238.9 L1668.9 1239.0 L1671.9 1239.1 L1674.9 1239.2 L1677.9 1239.4 L1678.9 1239.4"/><path d="M1678.9 1239.4 L1681.9 1239.5 L1684.9 1239.6 L1687.9 1239.7 L1690.9 1239.9 L1693.9 1240.0 L1696.9 1240.1 L1699.9 1240.2 L1702.9 1240.3 L1705.9 1240.4 L1708.9 1240.5 L1711.9 1240.6 L1714.9 1240.7 L1717.9 1240.8 L1720.9 1240.9 L1723.9 1241.0 L1726.9 1241.1 L1729.9 1241.2 L1732.9 1241.3 L1735.9 1241.4 L1737.9 1241.4"/><path d="M1737.9 1241.4 L1740.9 1241.5 L1743.9 1241.6 L1746.9 1241.7 L1749.9 1241.8 L1752.9 1241.8 L1755.9 1241.9 L1758.9 1242.0 L1761.9 1242.1 L1764.9 1242.1 L1767.9 1242.2 L1770.9 1242.3 L1773.9 1242.3 L1776.9 1242.4 L1779.9 1242.5 L1780.9 1242.5"/></g>
<g fill="none" stroke="#0f0" stroke-width="7" stroke-dasharray="30.4 19.8 0.9 20.2" stroke-linejoin="round"><path d="M463.2 541.3 L464.0 538.5 L465.1 535.7 L466.1 532.9 L467.2 530.1 L468.2 527.2 L469.2 524.4 L470.3 521.6 L471.3 518.8 L472.3 515.9 L473.4 513.1 L474.4 510.3 L475.4 507.4 L476.4 504.6 L477.5 501.8 L478.5 499.0 L479.5 496.1 L480.5 493.3 L481.5 490.5 L482.5 487.6 L483.5 484.8 L484.5 482.0 L485.5 479.1 L486.5 476.3 L487.5 473.4"/><path d="M487.5 473.4 L488.6 470.6 L489.6 467.8 L490.6 464.9 L491.6 462.1 L492.6 459.3 L493.6 456.4 L494.6 453.6 L495.6 450.8 L496.6 447.9 L497.6 445.1 L498.5 442.2 L499.5 439.4 L500.5 436.6 L501.5 433.7 L502.5 430.9 L503.5 428.1 L504.5 425.2 L505.5 422.4 L506.5 419.5 L507.6 416.7 L508.6 413.9 L509.6 411.0 L510.6 408.2 L511.6 405.4 L511.9 404.4"/><path d="M511.9 404.4 L512.9 401.6 L513.9 398.8 L514.9 395.9 L516.0 393.1 L517.0 390.3 L518.0 387.4 L519.0 384.6 L520.0 381.8 L521.1 378.9 L522.1 376.1 L523.1 373.3 L524.1 370.5 L525.2 367.6 L526.2 364.8 L527.3 362.0 L528.3 359.2 L529.4 356.4 L530.4 353.5 L531.5 350.7 L532.6 347.9 L533.7 345.1 L534.8 342.3 L535.9 339.5 L537.0 336.7"/><path d="M537.0 336.7 L538.1 333.9 L539.3 331.2 L540.4 328.4 L541.6 325.6 L542.8 322.8 L544.0 320.1 L545.2 317.3 L546.4 314.6 L547.7 311.8 L548.9 309.1 L550.2 306.4 L551.5 303.7 L552.8 301.0 L554.1 298.3 L555.5 295.6 L556.8 292.9 L558.2 290.2 L559.6 287.6 L561.1 284.9 L562.5 282.3 L564.0 279.7 L565.5 277.1 L566.5 275.3"/><path d="M566.5 275.3 L568.1 272.7 L569.6 270.2 L571.2 267.6 L572.8 265.1 L574.4 262.5 L576.1 260.0 L577.8 257.5 L579.5 255.1 L581.2 252.6 L583.0 250.2 L584.7 248.1 L587.1 246.4 L589.6 244.7 L592.1 243.1 L594.7 241.5 L597.2 239.9 L599.6 238.1 L602.0 236.2 L604.1 234.2 L606.1 231.9 L608.1 232.5 L610.3 234.6 L612.5 236.7 L614.7 238.7 L616.1 240.1"/><path d="M616.1 240.1 L618.3 242.2 L620.5 244.3 L622.7 246.3 L624.8 248.4 L627.0 250.5 L629.2 252.6 L631.3 254.7 L633.5 256.8 L635.7 258.9 L637.8 261.0 L639.8 262.2 L641.2 264.9 L642.6 267.5 L644.0 270.2 L645.4 272.9 L646.7 275.5 L648.1 278.2 L649.4 280.9 L650.7 283.6 L652.0 286.3 L653.3 289.0 L654.6 291.7 L655.9 294.4 L657.2 297.2 L658.0 299.0"/><path d="M658.0 299.0 L659.2 301.7 L660.5 304.4 L661.7 307.2 L662.9 309.9 L664.1 312.7 L665.3 315.4 L666.5 318.2 L667.7 320.9 L668.9 323.7 L670.0 326.5 L671.2 329.3 L672.3 332.0 L673.4 334.8 L674.6 337.6 L675.7 340.4 L676.8 343.2 L677.9 346.0 L679.0 348.7 L680.1 351.5 L681.2 354.3 L682.2 357.1 L683.3 359.9 L684.4 362.8 L685.4 365.6 L685.8 366.5"/><path d="M685.8 366.5 L686.8 369.3 L687.9 372.1 L688.9 374.9 L690.0 377.7 L691.0 380.6 L692.0 383.4 L693.1 386.2 L694.1 389.0 L695.1 391.8 L696.1 394.7 L697.1 397.5 L698.1 400.3 L699.2 403.1 L700.2 406.0 L701.2 408.8 L702.2 411.6 L703.2 414.5 L704.2 417.3 L705.2 420.1 L706.2 423.0 L707.2 425.8 L708.2 428.6 L709.2 431.4"/><path d="M709.2 431.4 L710.1 434.3 L711.1 437.1 L712.1 439.9 L713.1 442.8 L714.1 445.6 L715.1 448.4 L716.1 451.3 L717.1 454.1 L718.1 456.9 L719.1 459.8 L720.1 462.6 L721.1 465.4 L722.1 468.3 L723.0 471.1 L724.0 473.9 L725.0 476.8 L726.0 479.6 L727.0 482.4 L728.0 485.3 L729.0 488.1 L730.0 490.9 L731.0 493.7 L732.0 496.6 L732.7 498.5"/><path d="M732.7 498.5 L733.7 501.3 L734.7 504.1 L735.7 506.9 L736.7 509.8 L737.7 512.6 L738.7 515.4 L739.8 518.2 L740.8 521.1 L741.8 523.9 L742.8 526.7 L743.8 529.5 L744.9 532.4 L745.9 535.2 L746.9 538.0 L748.0 540.8 L749.0 543.6 L750.0 546.4 L751.1 549.2 L752.1 552.1 L753.2 554.9 L754.2 557.7 L755.3 560.5 L756.4 563.3 L757.1 565.2"/><path d="M757.1 565.2 L758.1 568.0 L759.2 570.8 L760.3 573.6 L761.4 576.4 L762.4 579.2 L763.5 582.0 L764.6 584.8 L765.7 587.6 L766.8 590.4 L767.9 593.1 L769.0 595.9 L770.2 598.7 L771.3 601.5 L772.4 604.3 L773.6 607.1 L774.7 609.8 L775.8 612.6 L777.0 615.4 L778.2 618.1 L779.3 620.9 L780.5 623.7 L781.7 626.4 L782.8 629.2 L783.2 630.1"/><path d="M783.2 630.1 L784.4 632.9 L785.6 635.6 L786.8 638.4 L788.1 641.1 L789.3 643.9 L790.5 646.6 L791.7 649.3 L793.0 652.1 L794.2 654.8 L795.5 657.5 L796.8 660.2 L798.0 662.9 L799.3 665.7 L800.6 668.4 L801.9 671.1 L803.2 673.8 L804.5 676.5 L805.8 679.2 L807.2 681.9 L808.5 684.5 L809.9 687.2 L811.2 689.9 L812.6 692.6 L813.1 693.5"/><path d="M813.1 693.5 L814.4 696.1 L815.8 698.8 L817.2 701.4 L818.7 704.1 L820.1 706.7 L821.5 709.4 L822.9 712.0 L824.4 714.6 L825.9 717.2 L827.3 719.9 L828.8 722.5 L830.3 725.1 L831.8 727.7 L833.3 730.3 L834.9 732.8 L836.4 735.4 L837.9 738.0 L839.5 740.5 L841.1 743.1 L842.7 745.7 L844.3 748.2 L845.9 750.7 L846.4 751.6"/><path d="M846.4 751.6 L848.0 754.1 L849.7 756.6 L851.3 759.1 L853.0 761.6 L854.6 764.1 L856.3 766.6 L858.0 769.1 L859.7 771.5 L861.4 774.0 L863.2 776.5 L864.9 778.9 L866.7 781.3 L868.5 783.7 L870.2 786.2 L872.0 788.6 L873.9 791.0 L875.7 793.3 L877.5 795.7 L879.4 798.1 L881.2 800.4 L883.1 802.8 L885.0 805.1 L886.3 806.6"/><path d="M886.3 806.6 L888.2 809.0 L890.1 811.3 L892.0 813.6 L894.0 815.8 L896.0 818.1 L897.9 820.4 L899.9 822.6 L901.9 824.8 L904.0 827.1 L906.0 829.3 L908.0 831.5 L910.1 833.6 L912.2 835.8 L914.2 838.0 L916.3 840.1 L918.5 842.3 L920.6 844.4 L922.7 846.5 L924.9 848.6 L927.0 850.7 L929.2 852.7 L931.4 854.8 L932.1 855.5"/><path d="M932.1 855.5 L934.3 857.5 L936.5 859.5 L938.8 861.5 L941.0 863.5 L943.3 865.5 L945.5 867.5 L947.8 869.4 L950.1 871.4 L952.4 873.3 L954.7 875.2 L957.1 877.1 L959.4 878.9 L961.8 880.8 L964.1 882.6 L966.5 884.5 L968.9 886.3 L971.3 888.1 L973.7 889.9 L976.2 891.6 L978.6 893.4 L981.1 895.1 L983.5 896.8"/><path d="M983.5 896.8 L986.0 898.5 L988.5 900.2 L991.0 901.8 L993.5 903.5 L996.0 905.1 L998.6 906.7 L1001.1 908.3 L1003.7 909.9 L1006.2 911.4 L1008.8 913.0 L1011.4 914.5 L1014.0 916.0 L1016.6 917.4 L1019.2 918.9 L1021.9 920.3 L1024.5 921.8 L1027.2 923.2 L1029.8 924.6 L1032.5 925.9 L1035.2 927.3 L1037.9 928.6 L1040.6 929.9"/><path d="M1040.6 929.9 L1043.3 931.2 L1046.0 932.5 L1048.7 933.8 L1051.4 935.1 L1054.1 936.3 L1056.9 937.5 L1059.6 938.7 L1062.4 939.9 L1065.2 941.1 L1067.9 942.2 L1070.7 943.4 L1073.5 944.5 L1076.3 945.6 L1079.0 946.7 L1081.8 947.8 L1084.6 948.9 L1087.5 950.0 L1090.3 951.0 L1093.1 952.1 L1095.9 953.1 L1098.7 954.1"/><path d="M1098.7 954.1 L1101.6 955.1 L1104.4 956.1 L1107.2 957.1 L1110.1 958.0 L1112.9 959.0 L1115.8 959.9 L1118.6 960.8 L1121.5 961.7 L1124.3 962.6 L1127.2 963.5 L1130.1 964.4 L1133.0 965.3 L1135.8 966.2 L1138.7 967.0 L1141.6 967.9 L1144.5 968.7 L1147.4 969.5 L1150.2 970.3 L1153.1 971.1 L1156.0 971.9 L1158.9 972.7 L1160.9 973.2"/><path d="M1160.9 973.2 L1163.8 974.0 L1166.7 974.7 L1169.6 975.5 L1172.5 976.2 L1175.4 976.9 L1178.3 977.7 L1181.2 978.4 L1184.1 979.1 L1187.1 979.8 L1190.0 980.5 L1192.9 981.1 L1195.8 981.8 L1198.8 982.5 L1201.7 983.1 L1204.6 983.7 L1207.6 984.4 L1210.5 985.0 L1213.4 985.6 L1216.4 986.2 L1218.3 986.6"/><path d="M1218.3 986.6 L1221.3 987.2 L1224.2 987.8 L1227.2 988.4 L1230.1 989.0 L1233.0 989.5 L1236.0 990.1 L1238.9 990.7 L1241.9 991.2 L1244.8 991.7 L1247.8 992.3 L1250.8 992.8 L1253.7 993.3 L1256.7 993.8 L1259.6 994.3 L1262.6 994.8 L1265.5 995.3 L1268.5 995.8 L1271.5 996.3 L1274.4 996.8 L1277.4 997.2 L1280.4 997.7 L1282.3 998.0"/><path d="M1282.3 998.0 L1285.3 998.4 L1288.3 998.9 L1291.2 999.3 L1294.2 999.8 L1297.2 1000.2 L1300.2 1000.6 L1303.1 1001.1 L1306.1 1001.5 L1309.1 1001.9 L1312.0 1002.3 L1315.0 1002.7 L1318.0 1003.1 L1321.0 1003.5 L1323.9 1003.9 L1326.9 1004.3 L1329.9 1004.6 L1332.9 1005.0 L1335.9 1005.4 L1338.8 1005.8 L1341.8 1006.1 L1344.8 1006.5 L1347.8 1006.8 L1350.7 1007.2"/><path d="M1350.7 1007.2 L1353.7 1007.6 L1356.7 1007.9 L1359.7 1008.2 L1362.7 1008.6 L1365.7 1008.9 L1368.6 1009.3 L1371.6 1009.6 L1374.6 1009.9 L1377.6 1010.3 L1380.6 1010.6 L1383.6 1010.9 L1386.5 1011.2 L1388.5 1011.2"/><path d="M1389.3 1011.5 L1392.3 1011.8 L1395.3 1012.1 L1398.3 1012.4 L1401.3 1012.7 L1404.2 1012.9 L1407.2 1013.2 L1410.2 1013.5 L1413.2 1013.8 L1416.2 1014.1 L1419.2 1014.3 L1422.2 1014.6 L1425.2 1014.9 L1428.2 1015.1 L1431.2 1015.4 L1434.2 1015.7 L1437.1 1015.9 L1440.1 1016.2 L1443.1 1016.4 L1446.1 1016.7 L1449.1 1017.0 L1452.1 1017.2 L1455.1 1017.5 L1458.1 1017.7 L1460.1 1017.9"/><path d="M1460.1 1017.9 L1463.1 1018.1 L1466.1 1018.4 L1469.1 1018.6 L1472.1 1018.8 L1475.1 1019.1 L1478.1 1019.3 L1481.0 1019.5 L1484.0 1019.8 L1487.0 1020.0 L1490.0 1020.2 L1493.0 1020.5 L1496.0 1020.7 L1499.0 1020.9 L1502.0 1021.1 L1505.0 1021.3 L1508.0 1021.6 L1511.0 1021.8 L1514.0 1022.0 L1517.0 1022.2 L1520.0 1022.4 L1523.0 1022.6 L1526.0 1022.8 L1529.0 1023.0 L1530.0 1023.1"/><path d="M1530.0 1023.1 L1533.0 1023.3 L1536.0 1023.5 L1539.0 1023.7 L1542.0 1023.9 L1545.0 1024.1 L1548.0 1024.3 L1551.0 1024.5 L1553.9 1024.7 L1556.9 1024.9 L1559.9 1025.1 L1562.9 1025.2 L1565.9 1025.4 L1568.9 1025.6 L1571.9 1025.8 L1574.9 1026.0 L1577.9 1026.1 L1580.9 1026.3 L1583.9 1026.5 L1586.9 1026.7 L1589.9 1026.8 L1592.9 1027.0 L1595.9 1027.2 L1598.9 1027.3 L1600.9 1027.5"/><path d="M1600.9 1027.5 L1603.9 1027.6 L1606.9 1027.8 L1609.9 1027.9 L1612.9 1028.1 L1615.9 1028.3 L1618.9 1028.4 L1621.9 1028.6 L1624.9 1028.7 L1627.9 1028.9 L1630.9 1029.0 L1633.9 1029.2 L1636.9 1029.3 L1639.9 1029.5 L1642.9 1029.6 L1645.9 1029.7 L1648.9 1029.9 L1651.9 1030.0 L1654.9 1030.2 L1657.9 1030.3 L1660.9 1030.4 L1663.9 1030.6 L1666.9 1030.7 L1667.9 1030.7"/><path d="M1667.9 1030.7 L1670.9 1030.9 L1673.9 1031.0 L1676.9 1031.1 L1679.9 1031.2 L1682.9 1031.4 L1685.9 1031.5 L1688.9 1031.6 L1691.9 1031.7 L1694.9 1031.8 L1697.9 1032.0 L1700.9 1032.1 L1703.9 1032.2 L1706.9 1032.3 L1709.9 1032.4 L1712.9 1032.5 L1715.9 1032.6 L1718.9 1032.7 L1721.9 1032.8 L1724.9 1033.0 L1727.9 1033.1 L1730.9 1033.2 L1733.9 1033.3 L1736.9 1033.4 L1739.9 1033.5"/><path d="M1739.9 1033.5 L1742.9 1033.5 L1745.9 1033.6 L1748.9 1033.7 L1751.9 1033.8 L1754.9 1033.9 L1758.0 1034.0 L1761.0 1034.1 L1764.0 1034.2 L1767.0 1034.3 L1770.0 1034.4 L1773.0 1034.4 L1776.0 1034.5 L1779.0 1034.6 L1780.9 1034.5"/></g>
<rect x="1179.85" y="154.10" width="29.6" height="29.6" rx="1" fill="#000"/>
<circle cx="1194.65" cy="267.00" r="16.5" fill="#f00"/>
<path d="M1194.65 342.00L1214.95 377.00L1174.35 377.00Z" fill="#0f0" stroke="#0f0" stroke-width="1" stroke-linejoin="round"/>
<path d="M1105.74 463.30H1284.2" stroke="#000" stroke-width="7"/>
<path d="M1105.74 561.20H1284.2" stroke="#f00" stroke-width="7" stroke-dasharray="24.3 34.5"/>
<path d="M1105.74 659.05H1284.2" stroke="#0f0" stroke-width="7" stroke-dasharray="30.4 19.8 0.9 20.2"/>
<text x="1342.3" y="194.6" class="lg">20°C Experimental</text>
<text x="1303.3" y="292.7" class="lg">150°C Experimental</text>
<text x="1303.3" y="390.6" class="lg">250°C Experimental</text>
<text x="1342.3" y="489.0" class="lg">20°C Fitting</text>
<text x="1303.3" y="587.0" class="lg">150°C Fitting</text>
<text x="1303.3" y="685.0" class="lg">250°C Fitting</text>
</svg>
</body></html>
